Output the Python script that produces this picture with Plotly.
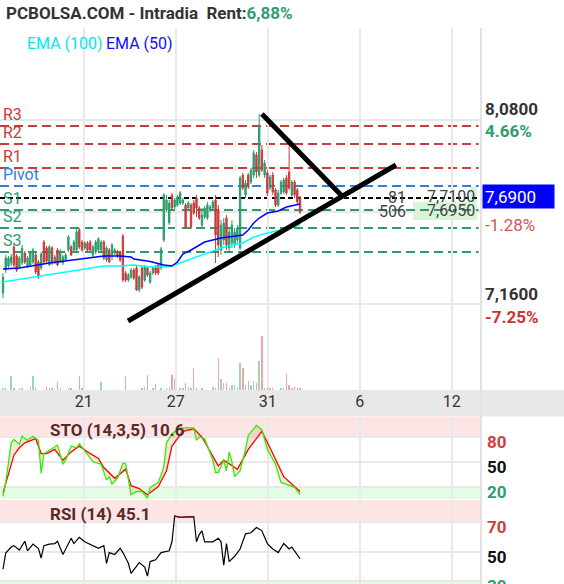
import plotly.graph_objects as go

# ---------------- DATA ----------------
tick_labels = ["21", "27", "31", "6", "12"]

open_ = [7.215,7.33,7.35,7.365,7.445,7.40,7.345,7.365,7.415,7.35,
 7.355,7.37,7.405,7.37,7.34,7.47,7.44,7.355,7.44,7.365,
 7.43,7.37,7.365,7.38,7.43,7.445,7.43,7.43,7.53,7.47,
 7.44,7.465,7.47,7.405,7.42,7.43,7.43,7.47,7.38,7.43,
 7.405,7.415,7.42,7.415,7.50,7.315,7.28,7.295,7.33,7.34,
 7.23,7.34,7.28,7.34,7.27,7.315,7.345,7.355,7.34,7.48,
 7.63,7.565,7.705,7.645,7.655,7.665,7.665,7.655,7.64,7.655,
 7.665,7.69,7.64,7.555,7.595,7.59,7.63,7.64,7.68,7.63,
 7.43,7.48,7.59,7.44,7.465,7.455,7.48,7.44,7.805,7.705,
 7.805,7.77,7.805,7.905,7.805,7.93,7.805,7.815,7.74,7.805,
 7.73,7.655,7.715,7.72,7.79,7.82,7.705,7.77,7.73,7.69]

close_ = [7.295,7.39,7.39,7.395,7.355,7.33,7.39,7.44,7.37,7.39,
 7.415,7.43,7.32,7.295,7.41,7.37,7.375,7.445,7.365,7.395,
 7.355,7.42,7.395,7.405,7.495,7.405,7.47,7.52,7.445,7.43,
 7.465,7.43,7.43,7.445,7.47,7.485,7.47,7.39,7.44,7.37,
 7.455,7.43,7.40,7.38,7.28,7.28,7.305,7.33,7.29,7.23,
 7.295,7.245,7.345,7.305,7.315,7.34,7.315,7.315,7.435,7.705,
 7.68,7.665,7.64,7.68,7.695,7.715,7.68,7.545,7.665,7.545,
 7.615,7.64,7.59,7.605,7.64,7.655,7.645,7.67,7.505,7.455,
 7.555,7.565,7.455,7.52,7.555,7.52,7.54,7.79,7.74,7.765,
 7.745,7.83,7.915,7.82,8.055,7.83,7.865,7.715,7.795,7.72,
 7.655,7.715,7.77,7.78,7.715,7.74,7.77,7.705,7.67,7.62]

high_ = [7.315,7.405,7.40,7.41,7.46,7.41,7.40,7.455,7.425,7.40,
 7.425,7.44,7.415,7.38,7.42,7.48,7.45,7.455,7.45,7.405,
 7.44,7.435,7.405,7.415,7.505,7.455,7.48,7.545,7.54,7.48,
 7.475,7.475,7.48,7.455,7.48,7.495,7.48,7.48,7.45,7.44,
 7.465,7.44,7.43,7.425,7.51,7.325,7.315,7.34,7.34,7.35,
 7.305,7.35,7.355,7.35,7.325,7.35,7.355,7.365,7.445,7.715,
 7.705,7.68,7.715,7.69,7.705,7.725,7.69,7.665,7.675,7.665,
 7.68,7.705,7.65,7.64,7.65,7.67,7.655,7.68,7.705,7.655,
 7.58,7.59,7.605,7.54,7.58,7.54,7.555,7.80,7.815,7.78,
 7.815,7.84,7.93,7.92,8.11,7.955,7.88,7.83,7.805,7.82,
 7.74,7.73,7.78,7.79,7.805,7.955,7.78,7.78,7.74,7.70]

low_ = [7.19,7.315,7.34,7.35,7.345,7.32,7.335,7.355,7.36,7.34,
 7.345,7.36,7.31,7.285,7.33,7.36,7.365,7.35,7.355,7.36,
 7.35,7.365,7.355,7.37,7.42,7.40,7.42,7.425,7.435,7.42,
 7.43,7.42,7.425,7.395,7.41,7.42,7.42,7.38,7.37,7.365,
 7.38,7.405,7.39,7.37,7.27,7.27,7.27,7.285,7.28,7.225,
 7.22,7.235,7.27,7.295,7.26,7.305,7.305,7.305,7.33,7.47,
 7.62,7.555,7.63,7.635,7.645,7.655,7.655,7.535,7.63,7.535,
 7.605,7.595,7.58,7.545,7.585,7.58,7.62,7.63,7.365,7.395,
 7.405,7.455,7.43,7.42,7.44,7.44,7.46,7.43,7.73,7.69,
 7.735,7.76,7.79,7.79,7.795,7.82,7.79,7.70,7.73,7.705,
 7.645,7.645,7.705,7.71,7.705,7.73,7.695,7.69,7.66,7.61]

volume = [16,16,5,140,16,5,16,25,5,5,
 30,140,16,5,5,5,30,16,16,5,
 80,16,5,5,16,16,5,5,140,16,
 5,5,5,5,5,5,80,5,5,5,
 5,5,5,5,5,140,5,5,5,5,
 5,16,30,150,5,16,60,5,16,5,
 16,30,150,110,5,16,16,66,30,16,
 220,16,5,16,5,5,5,30,16,316,
 110,66,66,16,50,50,30,270,220,50,
 90,50,90,66,290,540,16,16,16,16,
 5,5,16,16,156,50,16,30,16,16]

ema50_x = [0,6,17,23,31,37,43,47,48,54,59,62,64,66,69,72,74,80,88,90,92,94,97,101,104,109]
ema50 = [7.335,7.34,7.365,7.375,7.39,7.40,7.40,7.395,7.385,7.372,7.355,7.35,7.37,7.41,7.43,
         7.455,7.47,7.49,7.505,7.53,7.565,7.59,7.615,7.625,7.645,7.66]
ema100_x = [0,11,23,37,43,48,54,60,64,68,71,74,80,84,88,92,97,102,105,109]
ema100 = [7.27,7.295,7.32,7.35,7.35,7.355,7.345,7.345,7.36,7.38,7.395,7.41,7.44,7.455,
          7.465,7.495,7.515,7.53,7.54,7.555]

pivot_names = ["R3", "R2", "R1", "Pivot", "S1", "S2", "S3"]
pivot_values = [8.05, 7.96, 7.84, 7.75, 7.63, 7.54, 7.42]
last_price = 7.69

trend1_x = [45.9, 144.2]
trend1_y = [7.075, 7.855]
trend2_x = [95.0, 124.4]
trend2_y = [8.11, 7.70]

book_qty = ["81", "506"]
book_price = ["7,7100", "7,6950"]
book_level = [7.69, 7.62]

sto_k_x = [0,1,3,4,6,7,9,11,13,14,15,17,20,22,23,25,27,28,31,33,36,38,39,40,42,44,45,46,47,49,
           51,53,54,57,59,60,62,65,70,71,72,74,77,78,79,81,82,83,84,85,87,89,90,93,95,97,100,102,105,107,109]
sto_k = [8,25,73,77,71,81,76,81,76,36,60,64,70,47,52,69,67,72,58,50,47,28,32,23,30,48,48,28,10,14,
         14,6,19,25,43,73,84,91,91,76,80,78,52,37,37,52,39,62,50,32,39,65,82,94,89,65,47,25,21,19,10.6]
sto_d_x = [0,2,4,6,8,12,14,16,19,22,25,28,31,35,37,41,45,47,50,53,57,60,62,66,70,73,77,79,81,83,
           86,90,95,99,103,109]
sto_d = [12,36,58,67,73,78,60,60,65,52,62,69,62,54,43,30,41,21,17.5,10,20,39,69,87,90,80,56,45,52,48,
         41,65,87,60,32,14]

rsi_x = [0,1,3,4,6,7,8,9,11,13,14,15,17,19,20,22,23,25,26,28,30,33,35,37,38,39,41,43,44,46,
         47,50,52,53,54,56,58,61,62,63,65,70,71,72,73,74,77,79,80,81,82,83,85,87,89,91,93,95,97,99,
         101,103,105,106,107,109]
rsi = [38,49,53,54,51,54,57,50.5,55,52,45.6,54,55,55.4,57,48,51.7,59,55.4,59.6,56.6,54,52.2,54,42,49.3,48,52.2,49.3,42,
       35.2,42.5,39.5,33.4,43.2,44.4,49.3,50.5,56.6,74,73.2,73.7,56.6,61.5,64,56.6,56.6,59,56.6,40.8,55.4,43.2,46.8,51.7,62,62.7,66.3,64,55.4,51.7,
       49.3,55.4,51.7,53,50.5,45.1]

right_labels = ["8,0800", "4.66%", "-1.28%", "7,1600", "-7.25%"]

# ---------------- STYLE / LAYOUT ----------------
W, H = 564, 584
PW = 481  # plot area width in px
GREEN = "#2a9d6f"
RED = "#cc3a3a"
BLUE_P = "#2f80d8"
GRID = "#e8e8e8"
FONT = "Roboto, Arial, sans-serif"
XR = [-1.1, 175.4]
TICK_POS = [29.65, 63.4, 97.1, 130.9, 164.7]


def py(p):
    return 1 - p / H


def px(p):
    return p / PW


idx = list(range(len(open_)))
fig = go.Figure()

fig.add_trace(go.Candlestick(
    x=idx, open=open_, high=high_, low=low_, close=close_,
    increasing=dict(line=dict(color=GREEN, width=1), fillcolor=GREEN),
    decreasing=dict(line=dict(color=RED, width=1), fillcolor=RED),
    whiskerwidth=0, hoverinfo="skip", xaxis="x", yaxis="y"))

fig.add_trace(go.Scatter(x=ema100_x, y=ema100, mode="lines",
                         line=dict(color="#00ffff", width=1.5), xaxis="x", yaxis="y", hoverinfo="skip"))
fig.add_trace(go.Scatter(x=ema50_x, y=ema50, mode="lines",
                         line=dict(color="#0000ff", width=1.5), xaxis="x", yaxis="y", hoverinfo="skip"))

for tx, ty in ((trend1_x, trend1_y), (trend2_x, trend2_y)):
    fig.add_trace(go.Scatter(x=tx, y=ty, mode="lines", line=dict(color="black", width=5),
                             xaxis="x", yaxis="y", hoverinfo="skip"))

# order book prices (clipped by plot area)
fig.add_trace(go.Scatter(x=[155.6] * len(book_price), y=book_level, mode="text", text=book_price,
                         textposition="middle right", cliponaxis=True,
                         textfont=dict(family=FONT, size=16, color="#444"),
                         xaxis="x", yaxis="y", hoverinfo="skip"))

vol_colors = ["rgba(42,157,111,0.45)" if c >= o else "rgba(230,70,70,0.5)" for o, c in zip(open_, close_)]
fig.add_trace(go.Bar(x=idx, y=volume, marker=dict(color=vol_colors, line=dict(width=0)), width=0.5,
                     xaxis="x", yaxis="y2", hoverinfo="skip"))

# STO
fig.add_trace(go.Scatter(x=sto_d_x, y=sto_d, mode="lines", line=dict(color="#ff0000", width=1.3),
                         xaxis="x2", yaxis="y3", hoverinfo="skip"))
fig.add_trace(go.Scatter(x=sto_k_x, y=sto_k, mode="lines", line=dict(color="#33ee00", width=1.3),
                         fill="tonexty", fillcolor="rgba(215,170,120,0.28)",
                         xaxis="x2", yaxis="y3", hoverinfo="skip"))

# RSI
fig.add_trace(go.Scatter(x=rsi_x, y=rsi, mode="lines", line=dict(color="#000000", width=1.2),
                         xaxis="x3", yaxis="y4", hoverinfo="skip"))
hx = [x for x, v in zip(rsi_x, rsi) if v >= 70]
hy = [v for v in rsi if v >= 70]
fig.add_trace(go.Scatter(x=hx, y=hy, mode="lines", line=dict(color="#8b0000", width=1.2),
                         xaxis="x3", yaxis="y4", hoverinfo="skip"))

shapes = []
shapes.append(dict(type="rect", xref="paper", yref="paper", x0=0, x1=W / PW, y0=py(416.5), y1=py(390),
                   fillcolor="#e8e8e8", line=dict(width=0), layer="below"))
shapes.append(dict(type="rect", xref="paper", yref="y3", x0=0, x1=1, y0=80, y1=104.9,
                   fillcolor="#fde5e5", line=dict(width=0), layer="below"))
shapes.append(dict(type="rect", xref="paper", yref="y3", x0=0, x1=1, y0=4.9, y1=20,
                   fillcolor="#e4fbe4", line=dict(width=0), layer="below"))
shapes.append(dict(type="rect", xref="paper", yref="y4", x0=0, x1=1, y0=70, y1=84.9,
                   fillcolor="#fde5e5", line=dict(width=0), layer="below"))
shapes.append(dict(type="rect", xref="paper", yref="y4", x0=0, x1=1, y0=28, y1=30,
                   fillcolor="#e4fbe4", line=dict(width=0), layer="below"))
shapes.append(dict(type="rect", xref="paper", yref="paper", x0=px(413), x1=px(477), y0=py(220), y1=py(201.7),
                   fillcolor="#d6f6d6", line=dict(width=0), layer="below"))
shapes.append(dict(type="rect", xref="paper", yref="paper", x0=px(470), x1=px(477), y0=py(201.7), y1=py(187),
                   fillcolor="#d6f6d6", line=dict(width=0), layer="below"))
shapes.append(dict(type="line", xref="paper", yref="paper", x0=1, x1=1, y0=0, y1=py(28),
                   line=dict(color="#e2e2e2", width=2)))
pcolors = [RED, RED, RED, BLUE_P, GREEN, GREEN, GREEN]
for v, c in zip(pivot_values, pcolors):
    shapes.append(dict(type="line", xref="paper", yref="y", x0=0, x1=0.995, y0=v, y1=v,
                       line=dict(color=c, width=2, dash="9px,5px"), layer="below"))
shapes.append(dict(type="line", xref="paper", yref="y", x0=0, x1=0.995, y0=last_price, y1=last_price,
                   line=dict(color="black", width=2, dash="5px,3px"), layer="below"))

ann = []


def A(text, x, y, xref="paper", yref="paper", xanchor="left", yanchor="middle", size=16,
      color="#333", weight="normal", **kw):
    d = dict(text=text, x=x, y=y, xref=xref, yref=yref, xanchor=xanchor, yanchor=yanchor,
             showarrow=False, font=dict(family=FONT, size=size, color=color, weight=weight))
    d.update(kw)
    ann.append(d)


A("PCBOLSA.COM - Intradia&nbsp; Rent:<span style='color:#2e9e6e'>6,88%</span>", px(4), py(13),
  size=17, color="#333", weight="bold")
A("EMA (100)", px(25), py(44), size=16, color="#00e8f0")
A("EMA (50)", px(104), py(44), size=16, color="#1010ff")

for n, v, c in zip(pivot_names, pivot_values, pcolors):
    A(n, px(1), v, yref="y", yanchor="bottom", size=16, color=c)

RX = px(483)
r_y = [109, 131, 225, 294, 317]
r_col = ["#333", "#2e9e6e", "#d65454", "#333", "#cc3333"]
r_w = ["bold", "bold", "normal", "bold", "bold"]
for t, yy, c, w in zip(right_labels, r_y, r_col, r_w):
    A(t, RX, py(yy), size=17, color=c, weight=w)
A("7,6900", px(482), py(196.5), size=17, color="white",
  bgcolor="#0000ff", width=67, height=19, borderpad=2, align="left")

for q, lv in zip(book_qty, book_level):
    A(q, px(408), lv, yref="y", xanchor="right", size=16, color="#444")

A("STO (14,3,5) 10.6", px(48), py(429.5), size=17, color="#5a2a2a", weight="bold")
A("RSI (14) 45.1", px(48), py(513.5), size=17, color="#5a2a2a", weight="bold")

lvl_colors = ["#d04040", "#111111", "#2e9e6e"]
for v, c in zip([80, 50, 20], lvl_colors):
    A(str(v), px(485), v, yref="y3", size=17, color=c, weight="bold", yshift=-5)
for v, c in zip([70, 50, 30], lvl_colors):
    A(str(v), px(485), v, yref="y4", size=17, color=c, weight="bold", yshift=-5)

ax_common = dict(range=XR, tickvals=TICK_POS, showgrid=True, gridcolor=GRID, gridwidth=2,
                 zeroline=False, showline=False, ticks="", fixedrange=True)

fig.update_layout(
    width=W, height=H, margin=dict(l=0, r=W - PW, t=0, b=0),
    paper_bgcolor="white", plot_bgcolor="rgba(0,0,0,0)", showlegend=False,
    font=dict(family=FONT, color="#333"), bargap=0, hovermode=False,
    xaxis=dict(domain=[0, 1], anchor="y", ticktext=tick_labels, showticklabels=True,
               tickfont=dict(family=FONT, size=16, color="#333"),
               rangeslider=dict(visible=False), **ax_common),
    yaxis=dict(domain=[py(390), py(28)], range=[6.73, 8.54], tickvals=[7.16, 7.62, 8.08],
               showticklabels=False, showgrid=True, gridcolor=GRID, gridwidth=2, zeroline=False,
               fixedrange=True),
    yaxis2=dict(overlaying="y", range=[0, 3620], visible=False, fixedrange=True),
    xaxis2=dict(anchor="y3", showticklabels=False, **ax_common),
    yaxis3=dict(domain=[py(499), py(416.5)], range=[4.9, 104.9], tickvals=[20, 50, 80],
                showticklabels=False, showgrid=True, gridcolor=GRID, gridwidth=1.5, zeroline=False,
                fixedrange=True),
    xaxis3=dict(anchor="y4", showticklabels=False, **ax_common),
    yaxis4=dict(domain=[0, py(500)], range=[28, 84.9], tickvals=[30, 50, 70],
                showticklabels=False, showgrid=True, gridcolor=GRID, gridwidth=1.5, zeroline=False,
                fixedrange=True),
    shapes=shapes, annotations=ann,
)

fig.write_html("out.html", config={"displayModeBar": False},
               post_script="document.body.style.margin='0';document.body.style.padding='0';")
